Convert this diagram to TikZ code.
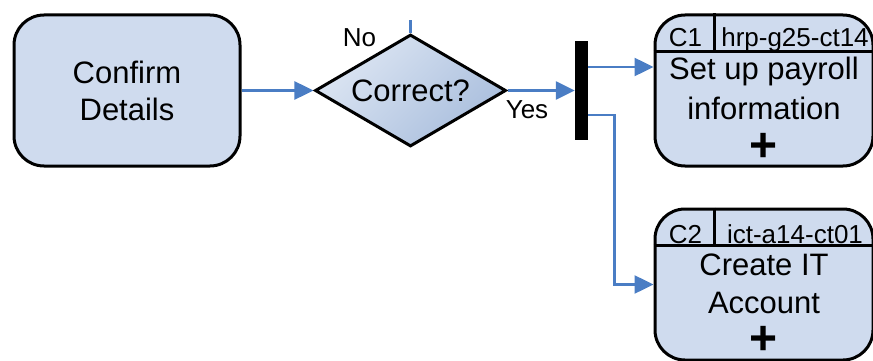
\documentclass[tikz,border=0pt]{standalone}
\usepackage{fontspec}
\setmainfont{Liberation Sans}
\usetikzlibrary{arrows.meta, positioning, calc, shapes.geometric}
\definecolor{boxfill}{HTML}{CFDBEE}
\definecolor{gradlight}{HTML}{DDE6F3}
\definecolor{graddark}{HTML}{A9BEDD}
\definecolor{flow}{HTML}{4A7DC4}

\begin{document}
\begin{tikzpicture}[
  x=1pt, y=-1pt,
  box/.style={draw=black, line width=3pt, fill=boxfill, rounded corners=30pt,
              minimum width=226pt, minimum height=151pt, inner sep=0pt},
  big/.style={font=\fontsize{31}{37}\selectfont, align=center, inner sep=0pt},
  small/.style={font=\fontsize{26}{30}\selectfont, inner sep=0pt},
  plus/.style={font=\fontsize{48}{48}\selectfont\bfseries, inner sep=0pt},
  decision/.style={diamond, draw=black, line width=3pt, aspect=1.7,
                   top color=gradlight, bottom color=graddark, shading angle=45,
                   minimum width=191pt, minimum height=112pt, inner sep=0pt},
  divider/.style={draw=black, line width=3pt},
  arr/.style={-{Triangle[length=19pt, width=18pt]}, line width=2.5pt, color=flow},
  flowline/.style={line width=2.5pt, color=flow}
]
  \useasboundingbox (0,0) rectangle (873,361);

  \node[box, big] (confirm) at (127,90.5) {Confirm\\Details};
  \node[decision, big] (check) at (410.5,90.5) {Correct?};
  \node[fill=black, minimum width=13pt, minimum height=98pt, inner sep=0pt] (fork) at (581.5,90.5) {};

  % payroll task
  \node[box, minimum width=218pt] (payroll) at (764,90.5) {};
  \draw[divider] ($(payroll.north west)+(0,38)$) -- ($(payroll.north east)+(0,38)$);
  \draw[divider] ($(payroll.north west)+(61,0)$) -- ($(payroll.north west)+(61,38)$);
  \node[small, anchor=base] (payroll-id) at (685.5,47) {C1};
  \node[small, anchor=base] (payroll-code) at (795,47) {hrp-g25-ct14};
  \node[big, anchor=base] (payroll-l1) at (764,80) {Set up payroll};
  \node[big, anchor=base] (payroll-l2) at (764,119) {information};
  \node[plus] (payroll-plus) at (764,147) {+};

  % account task
  \node[box, minimum width=218pt] (account) at (764,284.5) {};
  \draw[divider] ($(account.north west)+(0,38)$) -- ($(account.north east)+(0,38)$);
  \draw[divider] ($(account.north west)+(61,0)$) -- ($(account.north west)+(61,38)$);
  \node[small, anchor=base] (account-id) at (685.5,243) {C2};
  \node[small, anchor=base] (account-code) at (795,243) {ict-a14-ct01};
  \node[big, anchor=base] (account-l1) at (764,275) {Create IT};
  \node[big, anchor=base] (account-l2) at (764,313) {Account};
  \node[plus] (account-plus) at (764,340) {+};

  \draw[arr] (confirm) -- (check);
  \draw[arr] (check) -- (fork);
  \draw[arr] (fork.east |- 0,67) -- (payroll.west |- 0,67);
  \draw[arr] (fork.east |- 0,115) -| ($(account.west)+(-39,0)$) -- (account.west);

  \coordinate (nostub) at (410.5,20);
  \draw[flowline] (check.north) -- (nostub);

  \node[small, anchor=base] (no) at (359.5,47) {No};
  \node[small, anchor=base] (yes) at (527,118) {Yes};
\end{tikzpicture}
\end{document}
